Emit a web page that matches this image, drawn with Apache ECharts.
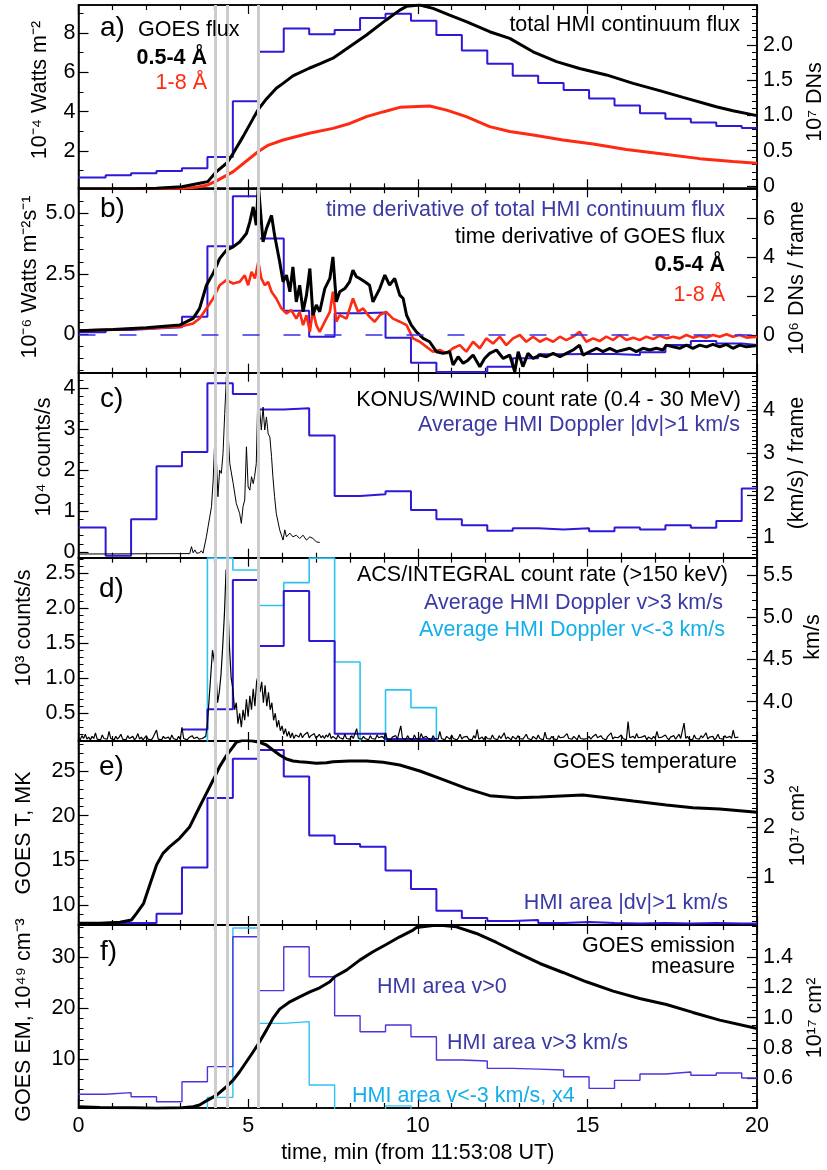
<!DOCTYPE html>
<html>
<head>
<meta charset="utf-8">
<script src="https://cdn.jsdelivr.net/npm/echarts@6/dist/echarts.min.js"></script>
<style>
html,body{margin:0;padding:0;background:#fff}
#chart{width:827px;height:1170px}
</style>
</head>
<body>
<div id="chart"></div>
<script>
// ---------- time base (min from 11:53:08 UT) ----------
const T_END = 20;
// HMI frame boundaries, 45 s cadence
const hmiEdges = [0, 0.8, 1.55, 2.3, 3.05, 3.8, 4.55, 5.3, 6.05, 6.8, 7.55, 8.3, 9.05, 9.8,
  10.55, 11.3, 12.05, 12.8, 13.55, 14.3, 15.05, 15.8, 16.55, 17.3, 18.05, 18.8, 19.55];
// flare reference times
const flareMarks = [4.02, 4.38, 5.31];

// ---------- tick labels ----------
const ticksTime = ['0', '5', '10', '15', '20'];
const ticksA_L = ['2', '4', '6', '8'];
const ticksA_R = ['0', '0.5', '1.0', '1.5', '2.0'];
const ticksB_L = ['0', '2.5', '5.0'];
const ticksB_R = ['0', '2', '4', '6'];
const ticksC_L = ['0', '1', '2', '3', '4'];
const ticksC_R = ['1', '2', '3', '4'];
const ticksD_L = ['0.5', '1.0', '1.5', '2.0', '2.5'];
const ticksD_R = ['4.0', '4.5', '5.0', '5.5'];
const ticksE_L = ['10', '15', '20', '25'];
const ticksE_R = ['1', '2', '3'];
const ticksF_L = ['10', '20', '30'];
const ticksF_R = ['0.6', '0.8', '1.0', '1.2', '1.4'];

// ---------- a) GOES flux and HMI continuum flux ----------
const goesFlux05_4 = [[0,0.05],[1.0,0.06],[1.61,0.07],[2.3,0.1],[3.05,0.18],[3.57,0.36],[3.81,0.44],
  [4.07,0.95],[4.38,1.40],[4.56,1.88],[4.85,2.73],[5.15,3.66],[5.29,4.09],[5.54,4.65],[5.83,5.19],
  [6.03,5.44],[6.32,5.82],[6.80,6.21],[7.11,6.43],[7.50,6.72],[7.99,7.31],[8.49,7.90],[9.07,8.67],
  [9.47,9.17],[9.67,9.36],[10.06,9.43],[10.45,9.26],[10.94,8.92],[11.43,8.58],[12.12,8.07],
  [12.71,7.73],[13.40,7.05],[14.09,6.55],[14.77,6.20],[15.56,5.87],[16.35,5.44],[17.13,5.07],
  [17.82,4.73],[18.80,4.25],[19.29,4.05],[20.0,3.80]];
const goesFlux1_8 = [[0,0.03],[3.0,0.06],[3.13,0.1],[3.5,0.16],[3.81,0.27],[4.07,0.48],[4.56,0.95],
  [5.29,1.96],[5.6,2.3],[6.03,2.56],[6.8,2.9],[7.5,3.15],[8.0,3.4],[8.49,3.75],[9.0,4.0],[9.47,4.22],
  [10.35,4.29],[10.85,4.08],[11.43,3.75],[12.12,3.24],[12.71,2.99],[13.40,2.81],[14.28,2.56],
  [15.17,2.36],[16.15,2.08],[17.23,1.85],[18.31,1.61],[19.29,1.46],[20.0,1.37]];
const hmiContinuum = [0.12,0.15,0.18,0.21,0.25,0.41,1.20,1.90,2.23,2.15,2.21,2.38,2.44,2.34,
  2.14,1.92,1.73,1.56,1.46,1.36,1.24,1.14,1.03,0.95,0.90,0.85,0.82];

// ---------- b) time derivatives ----------
const goesDeriv05_4 = [[0,0.15],[1.02,0.20],[2.0,0.27],[2.98,0.38],[3.38,0.66],[3.57,1.07],[3.77,2.03],
  [3.97,2.52],[4.16,3.13],[4.36,3.48],[4.56,3.62],[4.75,3.82],[4.95,4.17],[5.05,4.65],[5.15,5.27],
  [5.24,4.51],[5.30,6.2],[5.44,3.82],[5.54,4.37],[5.69,4.92],[5.78,4.10],[5.93,3.0],[6.03,2.17],
  [6.13,2.45],[6.23,1.76],[6.32,2.79],[6.42,1.34],[6.52,2.03],[6.62,0.93],[6.72,1.62],[6.82,2.72],
  [6.91,0.79],[7.01,1.21],[7.11,0.93],[7.26,1.89],[7.41,2.31],[7.50,3.20],[7.60,1.34],[7.70,1.76],
  [7.85,1.89],[7.99,2.17],[8.09,2.65],[8.19,2.38],[8.29,2.31],[8.44,2.17],[8.58,2.03],[8.68,1.34],
  [8.88,1.89],[9.03,2.45],[9.17,2.03],[9.32,2.31],[9.47,1.62],[9.57,1.48],[9.67,0.79],[9.81,0.38],
  [9.96,0.10],[10.16,-0.17],[10.35,-0.31],[10.55,-0.72],[10.75,-0.79],[10.94,-0.72],[11.04,-1.27],
  [11.19,-0.93],[11.34,-1.20],[11.48,-1.07],[11.63,-0.86],[11.83,-1.34],[11.97,-1.00],[12.12,-0.79],
  [12.32,-0.65],[12.52,-1.00],[12.71,-0.86],[12.86,-1.55],[12.96,-0.72],[13.10,-1.34],[13.25,-0.79],
  [13.40,-1.00],[13.60,-0.86],[13.79,-0.93],[13.99,-0.79],[14.19,-0.93],[14.38,-0.79],[14.58,-0.65],
  [14.77,-0.45],[14.87,-0.86],[15.07,-0.72],[15.27,-0.58],[15.46,-0.72],[15.66,-0.58],[15.86,-0.72],
  [16.05,-0.65],[16.25,-0.58],[16.44,-0.72],[16.64,-0.58],[16.84,-0.65],[17.03,-0.58],[17.23,-0.65],
  [17.33,-0.45],[17.53,-0.52],[17.72,-0.58],[17.92,-0.45],[18.11,-0.58],[18.31,-0.45],[18.51,-0.52],
  [18.70,-0.42],[18.90,-0.52],[19.10,-0.42],[19.29,-0.58],[19.49,-0.45],[19.69,-0.52],[20.0,-0.47]];
const goesDeriv1_8 = [[0,0.15],[1.0,0.2],[2.0,0.24],[2.98,0.31],[3.38,0.45],[3.57,0.65],[3.77,1.07],
  [3.97,1.48],[4.16,2.03],[4.36,2.24],[4.56,2.10],[4.75,2.17],[4.90,2.44],[5.0,2.03],[5.10,2.58],
  [5.20,2.31],[5.30,3.0],[5.39,2.31],[5.49,2.03],[5.59,2.17],[5.69,1.76],[5.83,1.48],[5.98,1.07],
  [6.13,0.86],[6.27,1.0],[6.42,0.65],[6.52,0.93],[6.62,0.38],[6.72,0.79],[6.82,0.10],[6.91,1.0],
  [7.01,0.38],[7.11,0.10],[7.26,0.52],[7.41,0.93],[7.50,1.76],[7.60,0.52],[7.70,0.79],[7.90,0.65],
  [8.09,1.48],[8.24,0.93],[8.39,1.07],[8.58,0.72],[8.73,0.52],[8.88,0.79],[9.07,0.93],[9.27,0.65],
  [9.47,0.52],[9.67,0.38],[9.86,-0.17],[10.06,-0.31],[10.26,-0.52],[10.45,-0.72],[10.65,-0.65],
  [10.85,-0.79],[11.04,-0.58],[11.24,-0.45],[11.43,-0.72],[11.63,-0.31],[11.83,-0.58],[12.02,-0.17],
  [12.22,-0.38],[12.42,-0.10],[12.61,-0.45],[12.81,-0.17],[13.01,-0.03],[13.20,-0.31],[13.40,-0.10],
  [13.60,-0.31],[13.79,-0.17],[13.99,-0.31],[14.19,-0.10],[14.38,-0.24],[14.58,-0.10],[14.77,0.10],
  [14.97,-0.31],[15.17,-0.17],[15.36,-0.28],[15.56,-0.10],[15.76,-0.24],[15.95,-0.03],[16.15,-0.24],
  [16.35,-0.14],[16.54,-0.24],[16.74,-0.10],[16.94,-0.20],[17.13,-0.06],[17.33,-0.17],[17.53,-0.10],
  [17.72,-0.17],[17.92,-0.03],[18.11,-0.14],[18.31,-0.06],[18.51,-0.14],[18.70,-0.03],[18.90,-0.10],
  [19.10,0.0],[19.29,-0.10],[19.49,-0.03],[19.69,-0.14],[20.0,-0.10]];
const hmiContinuumDeriv = [0.15,0.26,0.34,0.40,0.94,4.58,7.16,4.98,1.25,-0.09,1.12,1.17,-0.14,-1.43,
  -1.9,-1.9,-1.63,-1.20,-0.99,-0.98,-0.98,-1.03,-0.89,-0.51,-0.31,-0.43,-0.51];

// ---------- c) KONUS/WIND and mean |dv| ----------
const konusRate = [[0,-0.05],[3.28,-0.04],[3.33,0.13],[3.38,-0.02],[3.43,0.05],[3.48,-0.03],[3.52,0.01],
  [3.57,-0.02],[3.62,0.03],[3.67,-0.03],[3.72,0.01],[3.77,0.37],[3.82,0.62],[3.87,0.86],[3.92,1.11],
  [3.97,1.76],[4.02,2.81],[4.07,2.16],[4.11,1.35],[4.16,2.0],[4.21,1.92],[4.26,2.41],[4.31,3.38],
  [4.36,4.28],[4.39,3.22],[4.46,2.16],[4.56,1.67],[4.65,1.19],[4.75,0.94],[4.80,0.70],[4.85,1.11],
  [4.90,1.27],[4.95,2.57],[5.00,1.59],[5.05,1.51],[5.10,1.84],[5.15,1.67],[5.19,1.84],[5.24,2.16],
  [5.27,3.22],[5.30,4.44],[5.34,3.46],[5.39,2.98],[5.44,3.54],[5.49,2.98],[5.54,3.30],[5.59,2.89],
  [5.64,2.81],[5.69,2.33],[5.73,1.84],[5.78,1.35],[5.83,0.94],[5.93,0.54],[6.03,0.29],[6.08,0.54],
  [6.13,0.37],[6.23,0.46],[6.32,0.37],[6.42,0.41],[6.52,0.33],[6.62,0.41],[6.72,0.29],[6.82,0.37],
  [6.91,0.33],[7.01,0.25],[7.11,0.23]];
const hmiDopplerAbs = [1.24,0.57,1.43,2.68,3.02,4.64,4.39,4.02,4.05,3.41,1.98,2.02,2.09,1.65,1.43,
  1.29,1.16,1.22,1.19,1.22,1.15,1.24,1.19,1.29,1.23,1.39,2.16];

// ---------- d) ACS/INTEGRAL and mean Doppler ----------
const ACS_CADENCE = 0.05;
const acsRate = [
  0.15,0.12,0.18,0.14,0.2,0.13,0.16,0.12,0.17,0.14, 0.22,0.13,0.15,0.12,0.19,0.14,0.16,0.13,0.24,0.14,
  0.15,0.12,0.17,0.13,0.16,0.2,0.13,0.15,0.12,0.18, 0.14,0.13,0.17,0.12,0.15,0.21,0.13,0.16,0.12,0.14,
  0.18,0.13,0.15,0.12,0.16,0.14,0.26,0.13,0.15,0.12, 0.17,0.14,0.13,0.16,0.12,0.19,0.14,0.15,0.12,0.17,
  0.13,0.3,0.14,0.16,0.12,0.15,0.13,0.18,0.14,0.12, 0.16,0.13,0.15,0.14,0.16,
  0.17,0.35,0.70,1.05,1.40,1.25,1.10,0.65,0.80,1.05, 1.45,1.90,2.55,2.10,1.45,1.00,0.85,0.55,0.65,0.35,
  0.50,0.30,0.55,0.40,0.70,0.45,0.75,0.55,0.85,0.60, 0.95,1.05,0.80,0.95,0.65,0.90,0.60,0.80,0.55,0.65,
  0.40,0.50,0.30,0.40,0.25,0.32,0.20,0.28,0.17,0.24, 0.15,0.22,0.14,0.19,
  0.2,0.16,0.22,0.15,0.19,0.17,0.23,0.15,0.18,0.16, 0.21,0.14,0.17,0.2,0.15,0.18,0.14,0.19,0.16,0.22,
  0.14,0.17,0.15,0.13,0.19,0.15,0.16,0.13,0.2,0.14, 0.16,0.13,0.18,0.14,0.15,0.28,0.14,0.16,0.13,0.17,
  0.14,0.15,0.12,0.18,0.14,0.16,0.13,0.19,0.15,0.13, 0.17,0.14,0.22,0.13,0.15,0.12,0.16,0.14,0.18,0.13,
  0.15,0.32,0.14,0.16,0.13,0.18,0.14,0.15,0.12,0.19, 0.14,0.16,0.13,0.21,0.15,0.13,0.17,0.14,0.16,0.12,
  0.18,0.14,0.15,0.13,0.24,0.14,0.16,0.12,0.17,0.15, 0.13,0.19,0.14,0.16,0.12,0.15,0.2,0.13,0.16,0.14,
  0.17,0.13,0.15,0.12,0.18,0.14,0.27,0.13,0.15,0.16, 0.12,0.17,0.14,0.15,0.13,0.19,0.14,0.16,0.12,0.18,
  0.14,0.15,0.22,0.13,0.16,0.14,0.12,0.17,0.15,0.13, 0.18,0.14,0.16,0.13,0.15,0.2,0.14,0.16,0.12,0.17,
  0.15,0.13,0.19,0.14,0.16,0.12,0.23,0.14,0.15,0.13, 0.17,0.14,0.16,0.12,0.18,0.15,0.13,0.16,0.14,0.21,
  0.14,0.16,0.13,0.17,0.15,0.12,0.19,0.14,0.16,0.13, 0.15,0.14,0.17,0.13,0.16,0.14,0.2,0.15,0.13,0.18,
  0.14,0.16,0.12,0.17,0.15,0.22,0.13,0.16,0.14,0.15, 0.13,0.19,0.14,0.16,0.12,0.38,0.15,0.13,0.17,0.14,
  0.21,0.15,0.13,0.16,0.14,0.18,0.12,0.16,0.15,0.13, 0.17,0.14,0.24,0.15,0.13,0.16,0.14,0.19,0.15,0.12,
  0.16,0.14,0.18,0.13,0.15,0.2,0.14,0.16,0.36,0.14, 0.17,0.13,0.15,0.12,0.19,0.14,0.16,0.13,0.18,0.15,
  0.14,0.22,0.13,0.16,0.14,0.17,0.12,0.15,0.2,0.14, 0.16,0.13,0.18,0.15,0.13,0.17,0.14,0.26,0.15,0.14,
  0.16];
const dopplerUp = [null,null,null,null,3.67,3.91,5.44,4.66,5.31,4.72,3.62,3.62,3.56,3.56,3.40];
const dopplerDown = [null,null,null,null,3.40,5.70,5.56,5.14,5.41,5.70,4.47,3.40,4.14,3.93,3.40];

// ---------- e) GOES temperature and HMI area ----------
const goesTemp = [[0,7.95],[0.63,7.95],[1.22,8.06],[1.56,8.32],[1.71,9.07],[1.92,10.19],[2.10,12.24],
  [2.30,14.48],[2.49,15.78],[2.69,16.53],[2.98,17.46],[3.28,18.77],[3.57,21.0],[3.77,22.5],[3.97,23.99],
  [4.16,25.49],[4.36,26.72],[4.56,27.72],[4.65,28.21],[4.85,28.47],[5.15,28.36],[5.34,28.21],
  [5.54,27.91],[5.73,27.35],[5.93,26.79],[6.13,26.34],[6.32,26.12],[6.52,26.04],[6.72,25.97],
  [7.01,25.86],[7.31,25.93],[7.50,26.04],[7.99,26.12],[8.49,26.12],[8.98,25.97],[9.47,25.67],
  [10.06,25.0],[10.65,24.18],[11.43,23.06],[12.12,22.24],[12.91,22.01],[13.60,22.09],[14.38,22.24],
  [14.87,22.31],[15.56,22.01],[16.35,21.64],[17.33,21.19],[18.11,20.90],[18.90,20.75],[20.0,20.37]];
const hmiAreaAbs = [0.07,0.07,0.07,0.256,1.19,2.60,3.39,3.57,3.03,1.84,1.67,1.61,1.13,0.76,0.32,
  0.17,0.11,0.13,0.07,0.09,0.07,0.06,0.07,0.06,0.07,0.06,0.06];

// ---------- f) GOES emission measure and HMI areas ----------
const goesEM = [[0,0.65],[0.63,0.52],[1.61,0.46],[2.30,0.33],[3.05,0.46],[3.38,0.65],[3.57,0.98],
  [3.81,1.96],[4.07,2.94],[4.36,4.58],[4.56,5.89],[4.75,7.53],[4.95,9.50],[5.15,11.46],[5.34,13.43],
  [5.54,15.72],[5.73,18.02],[5.93,19.85],[6.23,21.29],[6.52,22.27],[6.82,23.26],[7.11,24.05],
  [7.41,25.23],[7.55,26.21],[7.90,27.52],[8.29,29.49],[8.68,31.13],[9.07,32.57],[9.47,34.08],
  [9.86,35.39],[9.96,35.9],[10.45,36.3],[10.75,36.3],[11.14,36.04],[11.73,34.73],[12.32,32.96],
  [12.91,31.0],[13.60,28.83],[14.28,27.06],[14.97,25.23],[15.76,23.39],[16.54,21.95],[17.33,20.77],
  [18.11,19.2],[18.90,17.69],[20.0,16.05]];
const hmiAreaUp = [0.496,0.507,0.48,0.447,0.579,0.678,1.533,1.178,1.467,1.27,1.013,0.908,0.952,0.875,
  0.722,0.715,0.667,0.662,0.656,0.612,0.535,0.588,0.63,0.643,0.621,0.636,0.603];
const hmiAreaDown4 = [null,null,null,null,0.38,0.476,1.59,0.963,0.974,0.557,0.38,0.38,0.42,0.38];

// ---------- styling ----------
const FONT = '"Liberation Sans", Arial, Helvetica, sans-serif';
const FS = 21.5;
const BLUE = '#2d19d7', BLUE_F = '#4a36dc', TEXT_BLUE = '#3b3aa4';
const CYAN = '#2cc3f2', TEXT_CYAN = '#14afe9', RED = '#ff2a12', GREY = '#cdcdcd';

const GRID_LEFT = 78.5, GRID_WIDTH = 678.5;
const panelTops = [5, 188.3, 372.7, 557.7, 741, 925, 1108];

// axis ranges and minor-tick spacing for each panel [left, right]
const panelAxes = [
  [{min: 0.1, max: 9.43, labels: ticksA_L, minor: [1, 9, 1]},
   {min: -0.034, max: 2.564, labels: ticksA_R, minor: [0, 2.5, 0.1]}],
  [{min: -1.59, max: 6.04, labels: ticksB_L, minor: [-1.5, 6, 0.5]},
   {min: -1.94, max: 7.57, labels: ticksB_R, minor: [-1, 7, 1]}],
  [{min: -0.14, max: 4.38, labels: ticksC_L, minor: [0, 4.2, 0.2]},
   {min: 0.525, max: 4.89, labels: ticksC_R, minor: [0.6, 4.8, 0.1]}],
  [{min: 0.104, max: 2.72, labels: ticksD_L, minor: [0.2, 2.7, 0.1]},
   {min: 3.535, max: 5.705, labels: ticksD_R, minor: [3.6, 5.7, 0.1]}],
  [{min: 7.76, max: 28.36, labels: ticksE_L, minor: [8, 28, 1]},
   {min: 0.03, max: 3.75, labels: ticksE_R, minor: [0.1, 3.7, 0.1]}],
  [{min: 0.4, max: 36.4, labels: ticksF_L, minor: [2, 36, 2]},
   {min: 0.406, max: 1.61, labels: ticksF_R, minor: [0.45, 1.6, 0.05]}]
];

function range(a, b, s) {
  const out = [];
  for (let v = a; v <= b + 1e-9; v += s) out.push(Math.round(v * 1000) / 1000);
  return out;
}
function labelFormatter(labels) {
  return v => {
    const hit = labels.find(s => Math.abs(parseFloat(s) - v) < 1e-6);
    return hit === undefined ? '' : hit;
  };
}
function stepData(vals) {
  const d = vals.map((v, i) => [hmiEdges[i], v]);
  const endT = vals.length < hmiEdges.length ? hmiEdges[vals.length] : T_END;
  d.push([endT, vals[vals.length - 1]]);
  return d;
}

const grids = [], xAxes = [], yAxes = [], series = [];
for (let k = 0; k < 6; k++) {
  grids.push({left: GRID_LEFT, width: GRID_WIDTH, top: panelTops[k],
    height: panelTops[k + 1] - panelTops[k], show: true, borderColor: '#000', borderWidth: 1.5,
    backgroundColor: 'transparent'});
  ['bottom', 'top'].forEach(pos => {
    const isLabelled = (k === 5 && pos === 'bottom');
    xAxes.push({
      type: 'value', gridIndex: k, position: pos, min: 0, max: T_END, interval: 5,
      axisLine: {show: true, onZero: false, lineStyle: {color: '#000', width: 1.5}},
      axisTick: {show: true, inside: true, length: 9, lineStyle: {color: '#000', width: 1.2}},
      minorTick: {show: true, splitNumber: 5, length: 5, lineStyle: {color: '#000', width: 1.2}},
      splitLine: {show: false}, minorSplitLine: {show: false},
      axisLabel: {show: isLabelled, color: '#000', fontSize: FS, fontFamily: FONT, margin: 7,
        formatter: labelFormatter(ticksTime)},
      name: isLabelled ? 'time, min (from 11:53:08 UT)' : '',
      nameLocation: 'middle', nameGap: 34,
      nameTextStyle: {color: '#000', fontSize: FS, fontFamily: FONT}
    });
  });
  const sides = ['left', 'right'];
  // main axes (labels + major ticks)
  sides.forEach((side, j) => {
    const ax = panelAxes[k][j];
    const vals = ax.labels.map(parseFloat);
    yAxes.push({
      type: 'value', gridIndex: k, position: side, min: ax.min, max: ax.max,
      axisLine: {show: true, onZero: false, lineStyle: {color: '#000', width: 1.5}},
      axisTick: {show: true, inside: true, length: 10, customValues: vals,
        lineStyle: {color: '#000', width: 1.2}},
      axisLabel: {show: true, customValues: vals, formatter: labelFormatter(ax.labels),
        color: '#000', fontSize: FS, fontFamily: FONT, margin: side === 'left' ? 3 : 6},
      splitLine: {show: false}
    });
  });
  // minor tick axes
  sides.forEach((side, j) => {
    const ax = panelAxes[k][j];
    yAxes.push({
      type: 'value', gridIndex: k, position: side, min: ax.min, max: ax.max,
      axisLine: {show: false, onZero: false},
      axisTick: {show: true, inside: true, length: 5, customValues: range(...ax.minor),
        lineStyle: {color: '#000', width: 1}},
      axisLabel: {show: false}, splitLine: {show: false}
    });
  });
  // grey flare-time markers
  series.push({
    type: 'line', xAxisIndex: 2 * k, yAxisIndex: 4 * k, data: [], z: 1, silent: true,
    markLine: {symbol: ['none', 'none'], silent: true, animation: false, label: {show: false},
      lineStyle: {color: GREY, width: 3, type: 'solid'},
      data: flareMarks.map(t => ({xAxis: t}))}
  });
}

function line(k, side, data, color, width, extra) {
  return Object.assign({
    type: 'line', xAxisIndex: 2 * k, yAxisIndex: 4 * k + (side === 'right' ? 1 : 0),
    data, showSymbol: false, symbol: 'none', z: 3,
    lineStyle: {color, width}, itemStyle: {color}, clip: true
  }, extra || {});
}
function steps(k, vals, color, width) {
  return line(k, 'right', stepData(vals), color, width, {step: 'end', z: 2});
}

// a)
series.push(steps(0, hmiContinuum, BLUE, 2));
series.push(line(0, 'left', goesFlux1_8, RED, 3));
series.push(line(0, 'left', goesFlux05_4, '#000', 3));
// b)
const stepB = steps(1, hmiContinuumDeriv, BLUE, 2);
stepB.markLine = {symbol: ['none', 'none'], silent: true, animation: false, label: {show: false},
  lineStyle: {color: '#3a2ee8', width: 1.5, type: [17, 24]}, data: [{yAxis: 0}]};
series.push(stepB);
series.push(line(1, 'left', goesDeriv1_8, RED, 2.6));
series.push(line(1, 'left', goesDeriv05_4, '#000', 3));
// c)
series.push(steps(2, hmiDopplerAbs, BLUE, 2));
series.push(line(2, 'left', konusRate, '#000', 1));
// d)
series.push(steps(3, dopplerDown, CYAN, 1.6));
series.push(steps(3, dopplerUp, BLUE, 2));
series.push(line(3, 'left', acsRate.map((v, i) => [i * ACS_CADENCE, v]), '#000', 1.2));
// e)
series.push(steps(4, hmiAreaAbs, BLUE, 2));
series.push(line(4, 'left', goesTemp, '#000', 3));
// f)
series.push(steps(5, hmiAreaDown4, CYAN, 1.4));
series.push(steps(5, hmiAreaUp, BLUE_F, 1.4));
series.push(line(5, 'left', goesEM, '#000', 3));

// ---------- annotation text ----------
function txt(x, y, text, o) {
  o = o || {};
  const align = o.align || 'left';
  return {
    type: 'text', x, y, rotation: o.rot || 0, z: 100, silent: true,
    style: {text, fill: o.color || '#000', align, textAlign: align, verticalAlign: 'middle',
      textVerticalAlign: 'middle',
      font: (o.bold ? 'bold ' : '') + (o.size || FS) + 'px ' + FONT}
  };
}
const R = Math.PI / 2;
const graphics = [
  // panel letters
  txt(100, 28, 'a)', {size: 28}), txt(100, 209, 'b)', {size: 28}), txt(100, 399, 'c)', {size: 28}),
  txt(99, 589, 'd)', {size: 28}), txt(99, 767, 'e)', {size: 28}), txt(100, 952, 'f)', {size: 28}),
  // a
  txt(138, 30, 'GOES flux'), txt(207, 58, '0.5-4 Å', {align: 'right', bold: true}),
  txt(207, 83, '1-8 Å', {align: 'right', color: RED}),
  txt(740, 25, 'total HMI continuum flux', {align: 'right'}),
  // b
  txt(725, 210, 'time derivative of total HMI continuum flux', {align: 'right', color: TEXT_BLUE}),
  txt(725, 237, 'time derivative of GOES flux', {align: 'right'}),
  txt(725, 265, '0.5-4 Å', {align: 'right', bold: true}),
  txt(725, 295, '1-8 Å', {align: 'right', color: RED}),
  // c
  txt(741, 400, 'KONUS/WIND count rate (0.4 - 30 MeV)', {align: 'right'}),
  txt(740, 425, 'Average HMI Doppler |dv|>1 km/s', {align: 'right', color: TEXT_BLUE}),
  // d
  txt(728, 575, 'ACS/INTEGRAL count rate (>150 keV)', {align: 'right'}),
  txt(723, 603, 'Average HMI Doppler v>3 km/s', {align: 'right', color: TEXT_BLUE}),
  txt(725, 630, 'Average HMI Doppler v<-3 km/s', {align: 'right', color: TEXT_CYAN}),
  // e
  txt(737, 762, 'GOES temperature', {align: 'right'}),
  txt(728, 903, 'HMI area |dv|>1 km/s', {align: 'right', color: TEXT_BLUE}),
  // f
  txt(735, 946, 'GOES emission', {align: 'right'}),
  txt(735, 967, 'measure', {align: 'right'}),
  txt(377, 987, 'HMI area v>0', {color: TEXT_BLUE}),
  txt(447, 1043, 'HMI area v>3 km/s', {color: TEXT_BLUE}),
  txt(352, 1096, 'HMI area v<-3 km/s, x4', {color: TEXT_CYAN}),
  // axis titles
  txt(40, 90, '10⁻⁴ Watts m⁻²', {rot: R, align: 'center'}),
  txt(815, 102, '10⁷ DNs', {rot: R, align: 'center'}),
  txt(30, 277, '10⁻⁶ Watts m⁻²s⁻¹', {rot: R, align: 'center'}),
  txt(797, 278, '10⁶ DNs / frame', {rot: R, align: 'center'}),
  txt(44, 457, '10⁴ counts/s', {rot: R, align: 'center'}),
  txt(797, 463, '(km/s) / frame', {rot: R, align: 'center'}),
  txt(24, 628, '10³ counts/s', {rot: R, align: 'center'}),
  txt(813, 637, 'km/s', {rot: R, align: 'center'}),
  txt(24, 833, 'GOES T, MK', {rot: R, align: 'center'}),
  txt(798, 826, '10¹⁷ cm²', {rot: R, align: 'center'}),
  txt(24, 1020, 'GOES EM, 10⁴⁹ cm⁻³', {rot: R, align: 'center'}),
  txt(815, 1018, '10¹⁷ cm²', {rot: R, align: 'center'})
];

const chart = echarts.init(document.getElementById('chart'), null, {renderer: 'canvas'});
chart.setOption({
  animation: false,
  backgroundColor: '#fff',
  grid: grids, xAxis: xAxes, yAxis: yAxes, series,
  graphic: graphics
});
</script>
</body>
</html>
